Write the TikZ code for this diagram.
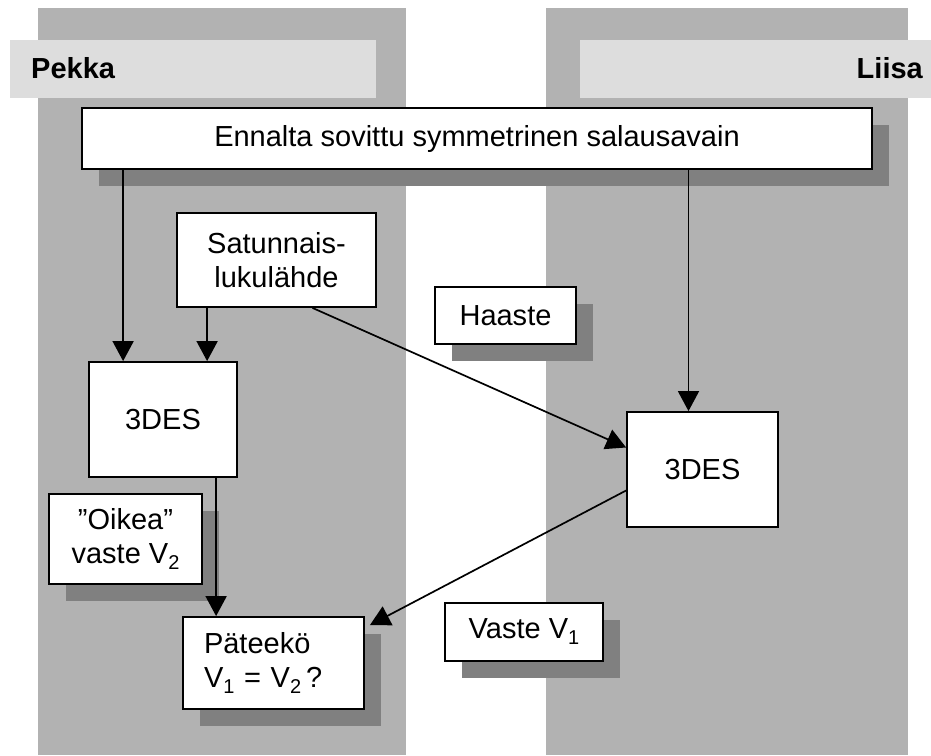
\documentclass[tikz,border=0pt]{standalone}
\usepackage{fontspec}
\setmainfont{Liberation Sans}
\usetikzlibrary{arrows.meta,calc}
\definecolor{lanegray}{HTML}{B2B2B2}
\definecolor{bandgray}{HTML}{DDDDDD}
\definecolor{shadowgray}{HTML}{808080}
\newcommand{\lowix}[1]{\raisebox{-6pt}{\fontsize{20}{20}\selectfont #1}}
\begin{document}
\begin{tikzpicture}[x=1pt,y=-1pt,
  every node/.style={font=\fontsize{29}{34}\selectfont},
  box/.style={draw=black,line width=1.8pt,fill=white,inner sep=0pt,align=center},
  shadowed/.style={preaction={fill=shadowgray,transform canvas={xshift=17pt,yshift=-17pt}}},
  arr/.style={line width=1.7pt,-{Triangle[length=20pt,width=21pt]}},
  header/.style={font=\fontsize{29}{34}\selectfont\bfseries,inner sep=0pt}]
\useasboundingbox (0,0) rectangle (931,755);

% swim lanes and their title bands
\fill[lanegray] (38,8) rectangle (406,755);
\fill[lanegray] (546,8) rectangle (908,755);
\fill[bandgray] (10,40) rectangle (376,98);
\fill[bandgray] (580,40) rectangle (931,98);
\node[header,anchor=base west] (pekka) at (31,78) {Pekka};
\node[header,anchor=base east] (liisa) at (923,78) {Liisa};

% boxes
\node[box,shadowed,minimum width=790pt,minimum height=61pt] (key) at (477,138.5)
  {Ennalta sovittu symmetrinen salausavain};
\node[box,minimum width=199pt,minimum height=94pt] (rng) at (276.5,260)
  {Satunnais-\\lukulähde};
\node[box,minimum width=148pt,minimum height=115pt] (l3des) at (163,419.5) {3DES};
\node[box,shadowed,minimum width=141pt,minimum height=57pt] (haaste) at (505.5,315.5) {Haaste};
\node[box,minimum width=151pt,minimum height=115pt] (r3des) at (702.5,469.5) {3DES};
\node[box,shadowed,minimum width=153pt,minimum height=90pt] (oikea) at (125.5,539)
  {”Oikea”\\vaste V\lowix{2}};
\node[box,shadowed,align=left,text width=139pt,inner xsep=21pt,minimum height=92pt] (check) at (273.5,663)
  {Päteekö\\V\lowix{1} = V\lowix{2}\,?};
\node[box,shadowed,minimum width=158pt,minimum height=58pt] (vaste) at (524,632) {Vaste V\lowix{1}};

% connectors
\path ($(l3des.north west)+(35,0)$) coordinate (k1);
\draw[arr] (key.south -| k1) -- (k1);
\path ($(rng.south west)+(31,0)$) coordinate (r1);
\draw[arr] (r1) -- (r1 |- l3des.north);
\path ($(r3des.north)+(-14,0)$) coordinate (k2);
\draw[arr] (key.south -| k2) -- (k2);
\draw[arr] ($(rng.south)+(36,0)$) -- ($(r3des.west)+(0,-22)$);
\coordinate (checkin) at ($(check.north east)+(5,9)$);
\draw[arr] ($(r3des.west)+(0,21)$) -- (checkin);
\path ($(l3des.south west)+(128,0)$) coordinate (d1);
\draw[arr] (d1) -- (d1 |- check.north);
\end{tikzpicture}
\end{document}
